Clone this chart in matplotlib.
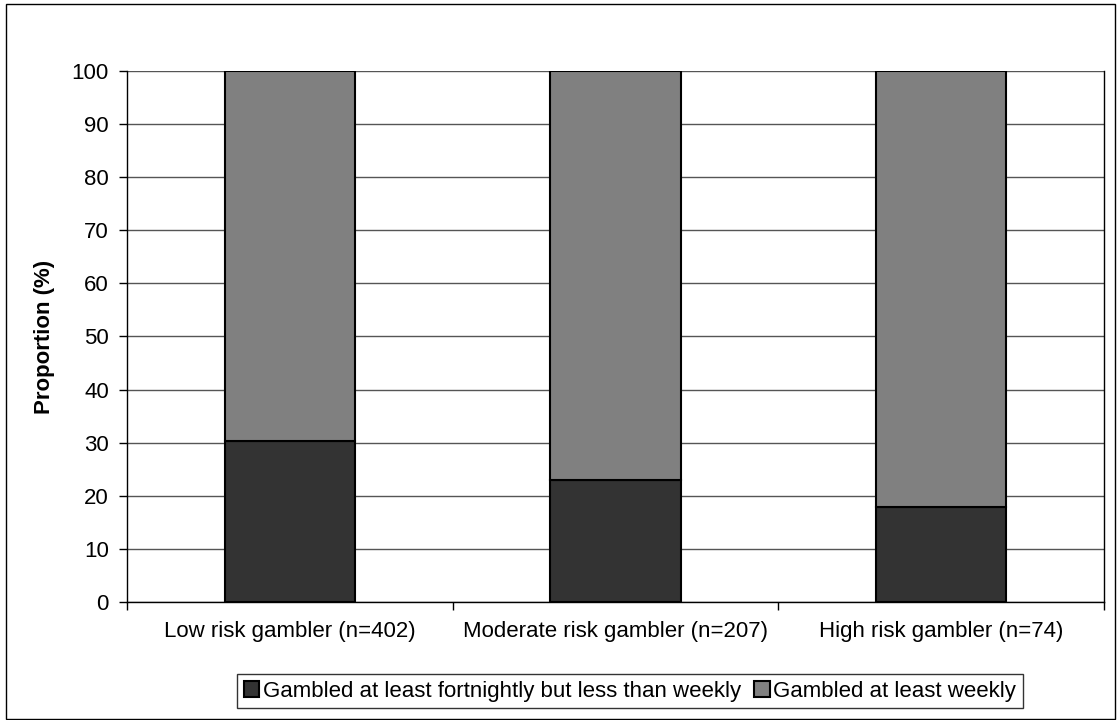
import numpy as np
import matplotlib.pyplot as plt
from matplotlib.patches import Rectangle

plt.rcParams['font.family'] = ['Liberation Sans', 'DejaVu Sans']

categories = ['Low risk gambler (n=402)', 'Moderate risk gambler (n=207)', 'High risk gambler (n=74)']
fortnightly = [30.3, 23.0, 17.9]
weekly = [69.7, 77.0, 82.1]
series_names = ['Gambled at least fortnightly but less than weekly', 'Gambled at least weekly']

fig = plt.figure(figsize=(11.17, 7.2), dpi=100)
ax = fig.add_axes([0.1137, 0.1639, 0.8747, 0.7375])

x = np.arange(len(categories))
ax.bar(x, fortnightly, width=0.4, color='#333333', edgecolor='black', linewidth=1.5,
       label=series_names[0], zorder=3)
ax.bar(x, weekly, width=0.4, bottom=fortnightly, color='#808080', edgecolor='black',
       linewidth=1.5, label=series_names[1], zorder=3)

ax.set_xlim(-0.5, 2.5)
ax.set_ylim(0, 100)
ax.set_yticks(range(0, 101, 10))
ax.yaxis.grid(True, color='#555555', linewidth=1)
ax.set_axisbelow(True)

ax.set_xticks(x)
ax.set_xticklabels(categories, fontsize=16)
ax.tick_params(axis='x', length=0, pad=14)
ax.set_xticks([-0.5, 0.5, 1.5, 2.5], minor=True)
ax.tick_params(axis='x', which='minor', length=6, width=1, direction='out')
ax.tick_params(axis='y', labelsize=16, length=6, width=1, direction='out', pad=7)
ax.set_ylabel('Proportion (%)', fontsize=16, fontweight='bold', labelpad=12)

ax.spines['top'].set_visible(False)
for s in ['left', 'bottom', 'right']:
    ax.spines[s].set_linewidth(1)
    ax.spines[s].set_color('black')

leg = fig.legend(loc='upper center', bbox_to_anchor=(0.564, 0.064), ncol=2, fontsize=16,
                 frameon=True, fancybox=False, edgecolor='black', handlelength=0.7,
                 handleheight=0.7, handletextpad=0.15, columnspacing=0.6,
                 borderpad=0.3, borderaxespad=0)
leg.get_frame().set_linewidth(1)

fig.patches.append(Rectangle((0.0054, 0.0015), 0.993, 0.9925, transform=fig.transFigure,
                             fill=False, edgecolor='black', linewidth=1))

fig.savefig('out.png', dpi=100)
